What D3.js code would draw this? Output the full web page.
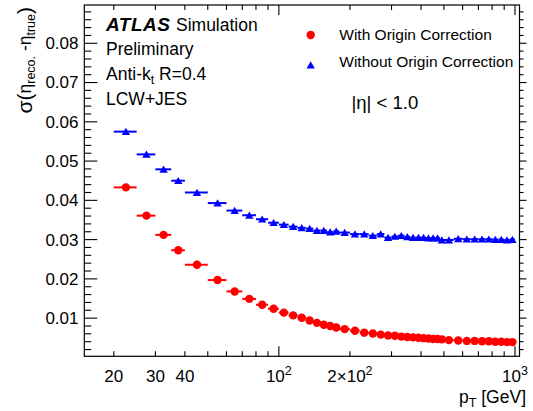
<!DOCTYPE html>
<html><head><meta charset="utf-8">
<script src="https://cdn.jsdelivr.net/npm/d3@7"></script>
<style>
body{margin:0;background:#fff;}
text{font-family:"Liberation Sans",Arial,Helvetica,sans-serif;fill:#000;}
</style></head>
<body>
<svg id="c" width="533" height="411"></svg>
<script>
// pT bin edges [GeV]
const ptEdges = [20,25,30,35,40,50,60,70,80,90,100,110,120,130,140,150,160,170,180,
  200,220,240,260,280,300,320,340,360,380,400,420,440,460,480,500,
  550,600,650,700,750,800,850,900,950,1000];
// sigma(eta_reco - eta_true) with origin correction
const withCorr = [0.0433,0.0361,0.0312,0.0273,0.0236,0.0197,0.0168,0.0149,0.0134,0.0124,0.0114,
  0.0107,0.0101,0.0094,0.0088,0.0083,0.0080,0.0076,
  0.0072,0.0068,0.0063,0.0061,0.0058,0.0056,0.0055,0.0053,0.0052,0.0051,0.0050,0.0049,0.0048,0.0047,0.0047,0.0046,
  0.0044,0.0043,0.0042,0.0042,0.0041,0.0041,0.0040,0.0040,0.0039,0.0039];
// without origin correction
const withoutCorr = [0.0575,0.0517,0.0479,0.0450,0.0420,0.0393,0.0374,0.0362,0.0352,0.0343,0.0338,
  0.0333,0.0330,0.0328,0.0323,0.0323,0.0319,0.0321,
  0.0318,0.0314,0.0314,0.0310,0.0314,0.0305,0.0308,0.0310,0.0307,0.0305,0.0305,0.0305,0.0304,0.0304,0.0304,0.0299,
  0.0299,0.0302,0.0301,0.0301,0.0301,0.0301,0.0300,0.0300,0.0299,0.0300];
const yTickValues = [0.01,0.02,0.03,0.04,0.05,0.06,0.07,0.08];
const xTickLabels = [{v:20,t:"20"},{v:30,t:"30"},{v:40,t:"40"},{v:100,t:"10",s:"2"},{v:200,t:"2\u00d710",s:"2"},{v:1000,t:"10",s:"3"}];
const seriesNames = ["With Origin Correction","Without Origin Correction"];

const svg = d3.select("#c");
const L=84.3, R=519.5, T=5, B=356.3;
const x = d3.scaleLog().domain([15,1045]).range([L,R]);
const y = d3.scaleLinear().domain([0.00028,0.08975]).range([B,T]);

// frame
svg.append("rect").attr("x",L).attr("y",T).attr("width",R-L).attr("height",B-T)
  .attr("fill","none").attr("stroke","#000").attr("stroke-width",1.2);

// x ticks
const xMinor=[20,30,40,50,60,70,80,90,200,300,400,500,600,700,800,900], xMajor=[100,1000];
const tg = svg.append("g").attr("stroke","#000").attr("stroke-width",1.1);
xMinor.forEach(v=>{
  tg.append("line").attr("x1",x(v)).attr("x2",x(v)).attr("y1",B).attr("y2",B-5);
  tg.append("line").attr("x1",x(v)).attr("x2",x(v)).attr("y1",T).attr("y2",T+5);
});
xMajor.forEach(v=>{
  tg.append("line").attr("x1",x(v)).attr("x2",x(v)).attr("y1",B).attr("y2",B-10);
  tg.append("line").attr("x1",x(v)).attr("x2",x(v)).attr("y1",T).attr("y2",T+10);
});
// y ticks
for(let i=1;i<=44;i++){
  const v=i*0.002; if(v>0.0897) break;
  const major = (i%5===0);
  tg.append("line").attr("x1",L).attr("x2",L+(major?13:7)).attr("y1",y(v)).attr("y2",y(v));
  tg.append("line").attr("x1",R).attr("x2",R+(major?7:4)).attr("y1",y(v)).attr("y2",y(v));
}
// y tick labels
yTickValues.forEach(v=>{
  svg.append("text").attr("x",78.5).attr("y",y(v)+5.9).attr("text-anchor","end")
    .attr("font-size",17).text(v.toFixed(2));
});
// x tick labels
xTickLabels.forEach(d=>{
  const t = svg.append("text").attr("x",x(d.v)).attr("y",382).attr("text-anchor","middle").attr("font-size",17);
  t.append("tspan").text(d.t);
  if(d.s) t.append("tspan").attr("dy",-7).attr("font-size",12.5).text(d.s);
});
// axis titles
const xt = svg.append("text").attr("x",526).attr("y",403).attr("text-anchor","end").attr("font-size",17.5);
xt.append("tspan").text("p");
xt.append("tspan").attr("dy",4).attr("font-size",12.5).text("T");
xt.append("tspan").attr("dy",-4).text(" [GeV]");

const yt = svg.append("text").attr("transform","translate(31,7) rotate(-90)").attr("text-anchor","end").attr("font-size",17.5);
yt.append("tspan").attr("font-size",21).attr("dy",1).text("\u03c3(");
yt.append("tspan").attr("dy",-1).text("\u03b7");
yt.append("tspan").attr("dy",4).attr("font-size",12.5).text("reco.");
yt.append("tspan").attr("dy",-4).text(" -\u03b7");
yt.append("tspan").attr("dy",4).attr("font-size",12.5).text("true");
yt.append("tspan").attr("dy",-3).attr("font-size",21).text(")");

// data
const bins = d3.range(ptEdges.length-1).map(i=>({lo:ptEdges[i],hi:ptEdges[i+1],c:(ptEdges[i]+ptEdges[i+1])/2}));
function drawSeries(vals,color,shape){
  const g = svg.append("g");
  bins.forEach((b,i)=>{
    g.append("line").attr("x1",x(b.lo)).attr("x2",x(b.hi)).attr("y1",y(vals[i])).attr("y2",y(vals[i]))
      .attr("stroke",color).attr("stroke-width",2);
  });
  bins.forEach((b,i)=>{
    const cx=x(b.c), cy=y(vals[i]);
    if(shape==="circle") g.append("circle").attr("cx",cx).attr("cy",cy).attr("r",4.2).attr("fill",color);
    else g.append("path").attr("d",`M${cx-4.2},${cy+3.4}L${cx+4.2},${cy+3.4}L${cx},${cy-3.8}Z`).attr("fill",color);
  });
}
drawSeries(withoutCorr,"#0000ff","tri");
drawSeries(withCorr,"#ff0000","circle");

// labels
const lab = svg.append("g").attr("font-size",17.5);
const a1 = lab.append("text").attr("x",106).attr("y",31);
a1.append("tspan").attr("font-weight","bold").attr("font-style","italic").attr("font-size",19).attr("textLength",64).text("ATLAS");
a1.append("tspan").attr("x",176).text("Simulation");
lab.append("text").attr("x",106).attr("y",55).text("Preliminary");
const a3 = lab.append("text").attr("x",106).attr("y",79.5);
a3.append("tspan").text("Anti-k");
a3.append("tspan").attr("dy",4).attr("font-size",12.5).text("t");
a3.append("tspan").attr("dy",-4).text(" R=0.4");
lab.append("text").attr("x",106).attr("y",104.5).text("LCW+JES");
lab.append("text").attr("x",351.5).attr("y",108.5).attr("font-size",18.5).text("|\u03b7| < 1.0");

// legend
svg.append("circle").attr("cx",310.7).attr("cy",35).attr("r",4.2).attr("fill","#ff0000");
svg.append("path").attr("d",`M${310.7-4.2},${65+3.4}L${310.7+4.2},${65+3.4}L${310.7},${65-3.8}Z`).attr("fill","#0000ff");
svg.append("text").attr("x",339.3).attr("y",40.3).attr("font-size",15.5).text(seriesNames[0]);
svg.append("text").attr("x",339.3).attr("y",66.7).attr("font-size",15.5).text(seriesNames[1]);
</script>
</body></html>
